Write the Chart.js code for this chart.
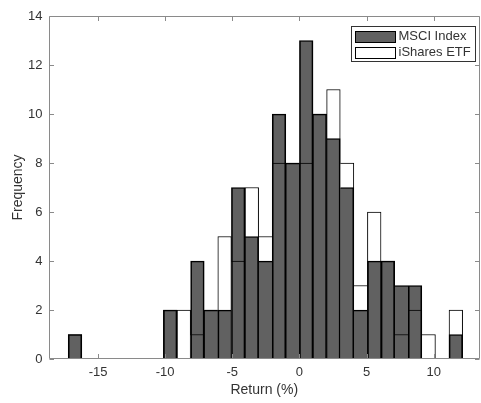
<!DOCTYPE html>
<html>
<head>
<meta charset="utf-8">
<script src="https://cdn.jsdelivr.net/npm/chart.js@4.4.1/dist/chart.umd.min.js"></script>
<style>
  html, body { margin: 0; padding: 0; background: #fff; }
  #histChart { display: block; }
</style>
</head>
<body>
<canvas id="histChart" width="481" height="403"></canvas>
<script>
// bin centres (bin width ~1.013 %), 29 bins from about -17.2 to 12.2
const binCenters = [
  -16.715, -15.702, -14.689, -13.676, -12.663, -11.650, -10.637, -9.624,
  -8.611, -7.598, -6.585, -5.572, -4.559, -3.546, -2.533, -1.520, -0.507,
  0.507, 1.520, 2.533, 3.546, 4.559, 5.572, 6.585, 7.598, 8.611, 9.624,
  10.637, 11.650
];
const msciCounts = [1, 0, 0, 0, 0, 0, 0, 2, 0, 4, 2, 2, 7, 5, 4, 10, 8, 13, 10, 9, 7, 2, 4, 4, 3, 3, 0, 0, 1];
const isharesCounts = [1, 0, 0, 0, 0, 0, 0, 2, 2, 1, 2, 5, 4, 7, 5, 8, 8, 8, 10, 11, 8, 3, 6, 4, 1, 2, 1, 0, 2];
const xTickValues = [-15, -10, -5, 0, 5, 10];
const seriesLabels = ['MSCI Index', 'iShares ETF'];

const axisColor = '#8a8a8a';
const textColor = '#333333';
const fontFamily = '"Liberation Sans", Arial, Helvetica, sans-serif';

// shared edges between neighbouring bars are drawn only once
function barBorder(ctx, counts) {
  const i = ctx.dataIndex;
  const v = counts[i];
  if (!v) return 0;
  const prev = counts[i - 1] || 0;
  const next = counts[i + 1] || 0;
  return { top: 1, bottom: 0, left: prev <= v ? 1 : 0, right: next < v ? 1 : 0 };
}

const axesBox = {
  id: 'axesBox',
  afterDatasetsDraw(chart) {
    const { ctx, chartArea: a, scales } = chart;
    const tick = 4.5;
    ctx.save();
    ctx.strokeStyle = axisColor;
    ctx.lineWidth = 1;
    ctx.beginPath();
    const L = Math.round(a.left) + 0.5, R = Math.round(a.right) - 0.5;
    const T = Math.round(a.top) + 0.5, B = Math.round(a.bottom) - 0.5;
    ctx.rect(L, T, R - L, B - T);
    scales.x.ticks.forEach((t) => {
      const px = Math.round(scales.x.getPixelForValue(t.value)) + 0.5;
      ctx.moveTo(px, B); ctx.lineTo(px, B - tick);
      ctx.moveTo(px, T); ctx.lineTo(px, T + tick);
    });
    scales.y.ticks.forEach((t) => {
      const py = Math.round(scales.y.getPixelForValue(t.value)) + 0.5;
      ctx.moveTo(L, py); ctx.lineTo(L + tick, py);
      ctx.moveTo(R, py); ctx.lineTo(R - tick, py);
    });
    ctx.stroke();
    ctx.restore();
  }
};

const boxLegend = {
  id: 'boxLegend',
  afterDraw(chart) {
    const { ctx, chartArea: a } = chart;
    const sets = chart.data.datasets;
    ctx.save();
    ctx.font = '13px ' + fontFamily;
    const textW = Math.max(...sets.map((d) => ctx.measureText(d.label).width));
    const swW = 40, swH = 11, rowH = 16;
    const w = Math.round(4 + swW + 3 + textW + 5);
    const h = rowH * sets.length + 3;
    const x = Math.round(a.right - 5 - w) + 0.5;
    const y = Math.round(a.top + 10) + 0.5;
    ctx.fillStyle = '#fff';
    ctx.fillRect(x, y, w, h);
    ctx.strokeStyle = '#333';
    ctx.lineWidth = 1;
    ctx.strokeRect(x, y, w, h);
    sets.forEach((d, i) => {
      const cy = y + 2 + rowH * i + rowH / 2;
      const sy = Math.round(cy - swH / 2) + 0.5;
      ctx.fillStyle = '#fff';
      ctx.fillRect(x + 4, sy, swW, swH);
      ctx.fillStyle = d.backgroundColor;
      ctx.fillRect(x + 4, sy, swW, swH);
      ctx.strokeStyle = '#000';
      ctx.strokeRect(x + 4, sy, swW, swH);
      ctx.fillStyle = textColor;
      ctx.textBaseline = 'middle';
      ctx.fillText(d.label, x + 4 + swW + 3, cy);
    });
    ctx.restore();
  }
};

new Chart(document.getElementById('histChart'), {
  type: 'bar',
  data: {
    datasets: [
      {
        label: seriesLabels[0],
        data: binCenters.map((c, i) => ({ x: c, y: msciCounts[i] })),
        backgroundColor: 'rgba(0, 0, 0, 0.62)',
        borderColor: '#000',
        borderWidth: (ctx) => barBorder(ctx, msciCounts),
        borderSkipped: false,
        grouped: false,
        barPercentage: 1,
        categoryPercentage: 1
      },
      {
        label: seriesLabels[1],
        data: binCenters.map((c, i) => ({ x: c, y: isharesCounts[i] })),
        backgroundColor: '#ffffff',
        borderColor: '#000',
        borderWidth: (ctx) => barBorder(ctx, isharesCounts),
        borderSkipped: false,
        grouped: false,
        barPercentage: 1,
        categoryPercentage: 1
      }
    ]
  },
  options: {
    responsive: false,
    animation: false,
    layout: { padding: { top: 16, right: 1, bottom: 0, left: 10 } },
    plugins: {
      legend: { display: false },
      tooltip: { enabled: false }
    },
    scales: {
      x: {
        type: 'linear',
        offset: false,
        min: -18.69,
        max: 13.45,
        afterBuildTicks: (scale) => { scale.ticks = xTickValues.map((v) => ({ value: v })); },
        afterFit: (scale) => { scale.height = 44; },
        grid: { display: false, drawTicks: false },
        border: { display: false },
        ticks: { color: textColor, font: { family: fontFamily, size: 13 }, padding: 6, maxRotation: 0 },
        title: {
          display: true,
          text: 'Return (%)',
          color: textColor,
          font: { family: fontFamily, size: 14 },
          padding: { top: 0, bottom: 4 }
        }
      },
      y: {
        min: 0,
        max: 14,
        afterFit: (scale) => { scale.width = 38.5; },
        grid: { display: false, drawTicks: false },
        border: { display: false },
        ticks: { stepSize: 2, color: textColor, font: { family: fontFamily, size: 13 }, padding: 6 },
        title: {
          display: true,
          text: 'Frequency',
          color: textColor,
          font: { family: fontFamily, size: 14 },
          padding: { top: 0, bottom: 0 }
        }
      }
    }
  },
  plugins: [axesBox, boxLegend]
});
</script>
</body>
</html>
